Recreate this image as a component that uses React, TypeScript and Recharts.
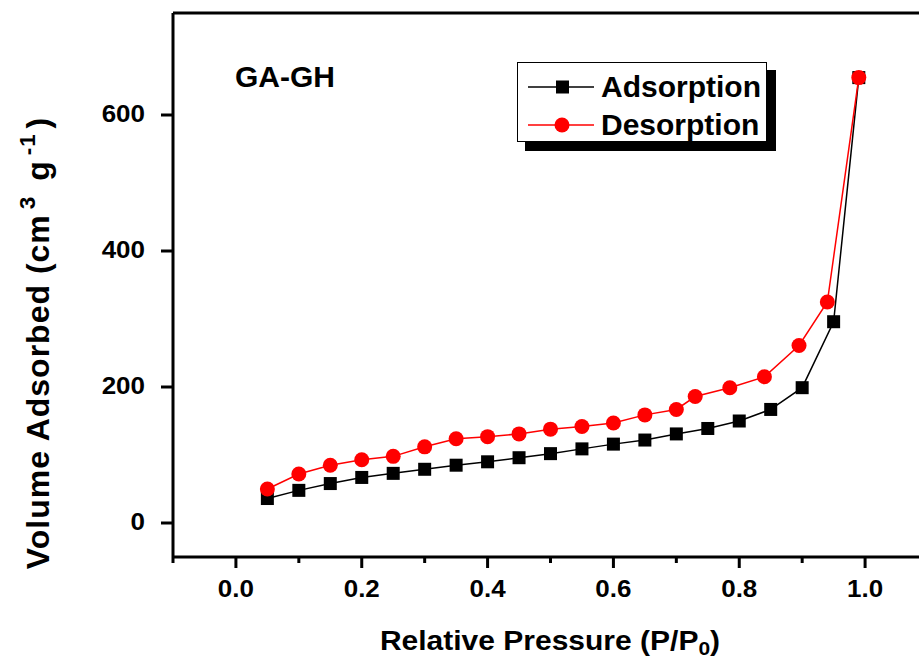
import { LineChart, Line, XAxis, YAxis, Legend, ReferenceLine } from "recharts";

const ADS_P = [0.05, 0.1, 0.15, 0.2, 0.25, 0.3, 0.35, 0.4, 0.45, 0.5, 0.55, 0.6, 0.65, 0.7, 0.75, 0.8, 0.85, 0.9, 0.95, 0.99];
const ADS_V = [36, 48, 58, 67, 73, 79, 85, 90, 96, 102, 109, 116, 122, 131, 139, 150, 167, 199, 296, 655];
const DES_P = [0.05, 0.1, 0.15, 0.2, 0.25, 0.3, 0.35, 0.4, 0.45, 0.5, 0.55, 0.6, 0.65, 0.7, 0.73, 0.785, 0.84, 0.895, 0.94, 0.99];
const DES_V = [50, 72, 85, 93, 98, 112, 124, 127, 131, 138, 142, 147, 159, 167, 186, 199, 215, 261, 325, 655];
const X_TICKS = [-0.1, 0, 0.1, 0.2, 0.3, 0.4, 0.5, 0.6, 0.7, 0.8, 0.9, 1.0, 1.1];
const Y_TICKS = [0, 200, 400, 600];

const ads = ADS_P.map((p, i) => ({ p, v: ADS_V[i] }));
const des = DES_P.map((p, i) => ({ p, v: DES_V[i] }));

const RED = "#ff0000";
const FONT = "Arial, 'Liberation Sans', sans-serif";

const XTick = ({ x, y, payload }: any) => {
  const v = payload.value;
  const major = Math.round(v * 10) % 2 === 0 && v >= 0 && v <= 1;
  return (
    <g>
      <line x1={x} x2={x} y1={y} y2={y + (major ? 11 : 6)} stroke="#000" strokeWidth={3} />
      {major && (
        <text
          transform={`translate(${x},${y + 40}) scale(1,0.9)`}
          textAnchor="middle"
          fontFamily={FONT}
          fontWeight="bold"
          fontSize={26}
          fill="#000"
        >
          {v.toFixed(1)}
        </text>
      )}
    </g>
  );
};

const YTick = ({ x, y, payload }: any) => (
  <g>
    <line x1={x - 12} x2={x} y1={y} y2={y} stroke="#000" strokeWidth={3} />
    <text
      transform={`translate(${x - 28},${y + 7}) scale(1,0.9)`}
      textAnchor="end"
      fontFamily={FONT}
      fontWeight="bold"
      fontSize={26}
      fill="#000"
    >
      {payload.value}
    </text>
  </g>
);

const SquareDot = (props: any) => {
  const { cx, cy, index } = props;
  return <rect key={`sq-${index}`} x={cx - 6.5} y={cy - 6.5} width={13} height={13} fill="#000" />;
};

const LegendBox = () => (
  <div style={{ position: "relative", width: 251, height: 81 }}>
    <div style={{ position: "absolute", left: 8, top: 8, width: 251, height: 81, background: "#000" }} />
    <div
      style={{
        position: "absolute",
        left: 0,
        top: 0,
        width: 248,
        height: 78,
        background: "#fff",
        border: "1.5px solid #000",
        fontFamily: FONT,
        fontWeight: "bold",
        fontSize: 30,
        color: "#000",
      }}
    >
      {[
        { name: "Adsorption", color: "#000", sq: true },
        { name: "Desorption", color: RED, sq: false },
      ].map((e, i) => (
        <div key={e.name} style={{ position: "absolute", left: 0, top: 6 + i * 38, height: 36, display: "flex", alignItems: "center" }}>
          <svg width={83} height={36} style={{ display: "block" }}>
            <line x1={10} x2={76} y1={18} y2={18} stroke={e.color} strokeWidth={1.5} />
            {e.sq ? <rect x={38} y={11.5} width={13} height={13} fill="#000" /> : <circle cx={44} cy={18} r={7.5} fill={RED} />}
          </svg>
          <span style={{ lineHeight: "36px" }}>{e.name}</span>
        </div>
      ))}
    </div>
  </div>
);

export default function App() {
  return (
    <div style={{ position: "absolute", left: 0, top: 0, width: 919, height: 668, overflow: "hidden", background: "#fff" }}>
      <LineChart width={940} height={668} margin={{ top: 13, right: 12, bottom: 0, left: 0 }}>
        <XAxis
          type="number"
          dataKey="p"
          domain={[-0.1, 1.1]}
          ticks={X_TICKS}
          interval={0}
          allowDataOverflow
          height={111}
          tickSize={0}
          tickMargin={0}
          tickLine={false}
          axisLine={{ stroke: "#000", strokeWidth: 3 }}
          tick={<XTick />}
        />
        <YAxis
          type="number"
          dataKey="v"
          domain={[-50, 750]}
          ticks={Y_TICKS}
          interval={0}
          allowDataOverflow
          width={173}
          tickSize={0}
          tickMargin={0}
          tickLine={false}
          axisLine={{ stroke: "#000", strokeWidth: 3 }}
          tick={<YTick />}
        />
        <ReferenceLine y={750} stroke="#000" strokeWidth={3} />
        <Legend
          layout="vertical"
          align="center"
          verticalAlign="middle"
          content={<LegendBox />}
          wrapperStyle={{ left: 517, top: 62, width: 260, height: 90 }}
        />
        <Line
          name="Adsorption"
          data={ads}
          dataKey="v"
          stroke="#000"
          strokeWidth={1.5}
          dot={SquareDot}
          activeDot={false}
          isAnimationActive={false}
        />
        <Line
          name="Desorption"
          data={des}
          dataKey="v"
          stroke={RED}
          strokeWidth={1.5}
          dot={{ r: 7.5, fill: RED, stroke: RED, strokeWidth: 0 }}
          activeDot={false}
          isAnimationActive={false}
        />
      </LineChart>
      <div
        style={{
          position: "absolute",
          left: 235,
          top: 59,
          fontFamily: FONT,
          fontWeight: "bold",
          fontSize: 30,
          lineHeight: "36px",
          color: "#000",
          whiteSpace: "nowrap",
        }}
      >
        GA-GH
      </div>
      <div
        style={{
          position: "absolute",
          left: 550,
          top: 645,
          transform: "translate(-50%, -50%) scaleY(0.9)",
          fontFamily: FONT,
          fontWeight: "bold",
          fontSize: 30,
          lineHeight: "36px",
          color: "#000",
          whiteSpace: "nowrap",
        }}
      >
        Relative Pressure (P/P<sub style={{ fontSize: "0.7em", verticalAlign: "-0.3em" }}>0</sub>)
      </div>
      <div
        style={{
          position: "absolute",
          left: 33,
          top: 343,
          transform: "translate(-50%, -50%) rotate(-90deg)",
          fontFamily: FONT,
          fontWeight: "bold",
          fontSize: 32,
          letterSpacing: 1,
          lineHeight: "36px",
          color: "#000",
          whiteSpace: "nowrap",
        }}
      >
        Volume Adsorbed (cm<sup style={{ fontSize: "0.7em", verticalAlign: "0.6em", margin: "0 5px" }}>3</sup> g
        <sup style={{ fontSize: "0.7em", verticalAlign: "0.6em", margin: "0 5px" }}>-1</sup>)
      </div>
    </div>
  );
}
